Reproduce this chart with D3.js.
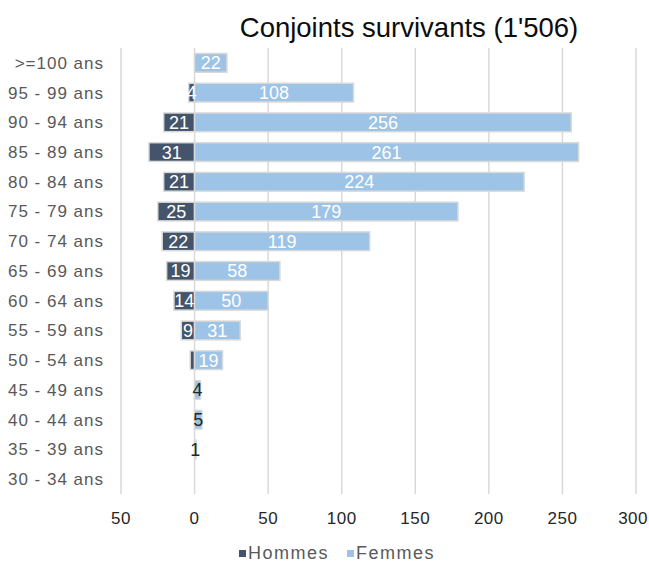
<!DOCTYPE html>
<html>
<head>
<meta charset="utf-8">
<script src="https://cdn.jsdelivr.net/npm/d3@7"></script>
<style>
  body { margin: 0; background: #fff; }
  text { font-family: "Liberation Sans", Arial, sans-serif; }
</style>
</head>
<body>
<div id="chart"></div>
<script>
// age groups, top to bottom
const ageGroups = ['>=100 ans', '95 - 99 ans', '90 - 94 ans', '85 - 89 ans', '80 - 84 ans',
  '75 - 79 ans', '70 - 74 ans', '65 - 69 ans', '60 - 64 ans', '55 - 59 ans',
  '50 - 54 ans', '45 - 49 ans', '40 - 44 ans', '35 - 39 ans', '30 - 34 ans'];
const hommes = [0, 4, 21, 31, 21, 25, 22, 19, 14, 9, 3, 0, 0, 0, 0];
const femmes = [22, 108, 256, 261, 224, 179, 119, 58, 50, 31, 19, 4, 5, 1, 0];
const xTicks = [-50, 0, 50, 100, 150, 200, 250, 300];
const title = "Conjoints survivants (1'506)";
const seriesNames = ['Hommes', 'Femmes'];

const width = 649, height = 563;
const margin = {top: 48, right: 13, bottom: 69, left: 121};
const colors = {Hommes: '#44546a', Femmes: '#9dc3e6'};

const svg = d3.select('#chart').append('svg')
  .attr('width', width)
  .attr('height', height);

const x = d3.scaleLinear()
  .domain([-50, 300])
  .range([margin.left, width - margin.right]);

const y = d3.scaleBand()
  .domain(ageGroups)
  .range([margin.top, height - margin.bottom])
  .paddingInner(0.37)
  .paddingOuter(0.185);

// vertical gridlines
svg.append('g')
  .selectAll('line')
  .data(xTicks)
  .join('line')
  .attr('x1', d => x(d)).attr('x2', d => x(d))
  .attr('y1', margin.top).attr('y2', height - margin.bottom)
  .attr('stroke', '#d9d9d9')
  .attr('stroke-width', 1.5);

// x tick labels (absolute values); the last one is kept inside the frame
svg.append('g')
  .selectAll('text')
  .data(xTicks)
  .join('text')
  .attr('x', (d, i) => i === xTicks.length - 1 ? width - 1 : x(d))
  .attr('y', height - margin.bottom + 30)
  .attr('text-anchor', (d, i) => i === xTicks.length - 1 ? 'end' : 'middle')
  .attr('font-size', 17)
  .attr('letter-spacing', 0.5)
  .attr('fill', '#262626')
  .text(d => Math.abs(d));

// y labels
svg.append('g')
  .selectAll('text')
  .data(ageGroups)
  .join('text')
  .attr('x', 104)
  .attr('y', d => y(d) + y.bandwidth() / 2)
  .attr('dy', '0.35em')
  .attr('text-anchor', 'end')
  .attr('font-size', 17)
  .attr('letter-spacing', 1)
  .attr('fill', '#595959')
  .text(d => d);

const rows = ageGroups.map((g, i) => ({group: g, h: hommes[i], f: femmes[i], small: i >= 11}));

// bars
const bars = svg.append('g');
bars.selectAll('rect.h')
  .data(rows.filter(d => d.h > 0))
  .join('rect')
  .attr('class', 'h')
  .attr('x', d => x(-d.h))
  .attr('width', d => x(0) - x(-d.h))
  .attr('y', d => y(d.group))
  .attr('height', y.bandwidth())
  .attr('fill', colors.Hommes)
  .attr('stroke', '#d9d9d9')
  .attr('stroke-width', 1.5);

bars.selectAll('rect.f')
  .data(rows.filter(d => d.f > 0))
  .join('rect')
  .attr('class', 'f')
  .attr('x', x(0))
  .attr('width', d => x(d.f) - x(0))
  .attr('y', d => y(d.group))
  .attr('height', y.bandwidth())
  .attr('fill', colors.Femmes)
  .attr('stroke', '#d9d9d9')
  .attr('stroke-width', 1.5);

// value labels, centred in the bars
const labels = svg.append('g').attr('font-size', 18).attr('text-anchor', 'middle');
labels.selectAll('text.h')
  .data(rows.filter(d => d.h >= 4 && !d.small))
  .join('text')
  .attr('class', 'h')
  .attr('x', d => (x(-d.h) + x(0)) / 2)
  .attr('y', d => y(d.group) + y.bandwidth() / 2)
  .attr('dy', '0.36em')
  .attr('fill', '#fff')
  .text(d => d.h);

labels.selectAll('text.f')
  .data(rows.filter(d => d.f > 0))
  .join('text')
  .attr('class', 'f')
  .attr('x', d => (x(d.f) + x(0)) / 2)
  .attr('y', d => y(d.group) + y.bandwidth() / 2)
  .attr('dy', '0.36em')
  .attr('fill', d => d.small ? '#262626' : '#fff')
  .text(d => d.f);

// title
svg.append('text')
  .attr('x', 409)
  .attr('y', 37)
  .attr('text-anchor', 'middle')
  .attr('font-size', 27.5)
  .attr('fill', '#0d0d0d')
  .text(title);

// legend
const legend = svg.append('g').attr('transform', 'translate(239,553)');
const legendX = [0, 108];
seriesNames.forEach((name, i) => {
  const g = legend.append('g').attr('transform', `translate(${legendX[i]},0)`);
  g.append('rect')
    .attr('x', 0).attr('y', -3)
    .attr('width', 7).attr('height', 7)
    .attr('fill', colors[name]);
  g.append('text')
    .attr('x', 9).attr('y', 0)
    .attr('dy', '0.35em')
    .attr('font-size', 18)
    .attr('letter-spacing', 1.5)
    .attr('fill', '#595959')
    .text(name);
});
</script>
</body>
</html>
